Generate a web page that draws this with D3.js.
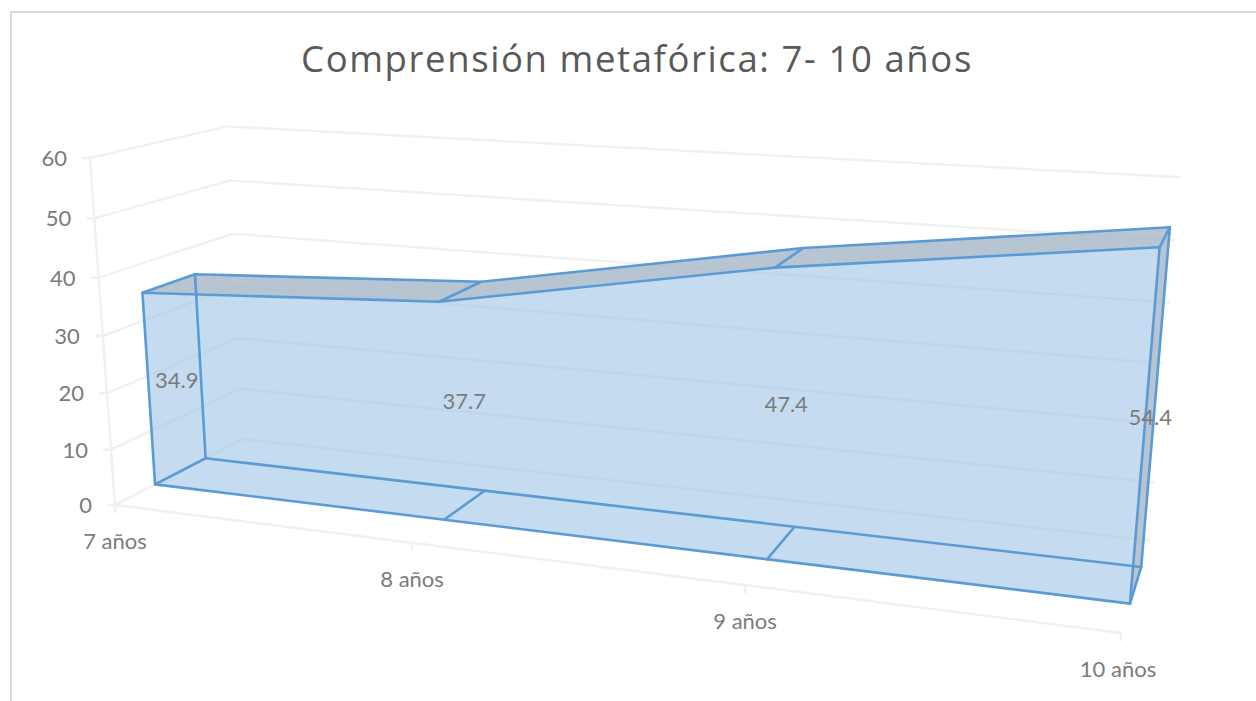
<!DOCTYPE html>
<html>
<head>
<meta charset="utf-8">
<script src="https://cdn.jsdelivr.net/npm/d3@7/dist/d3.min.js"></script>
<style>
  html, body { margin: 0; padding: 0; background: #fff; }
  svg { display: block; }
  text { font-family: Lato, sans-serif; font-size: 22px; fill: #7b7b7b; }
  .title { font-family: "Open Sans", sans-serif; font-size: 36.5px; fill: #595959; letter-spacing: 1.6px; }
</style>
</head>
<body>
<svg id="chart" width="1256" height="701"></svg>
<script>
const chartTitle = "Comprensión metafórica: 7- 10 años";
const categories = ["7 años", "8 años", "9 años", "10 años"];
const values = [34.9, 37.7, 47.4, 54.4];
const valueTicks = [0, 10, 20, 30, 40, 50, 60];

const width = 1256, height = 701;
const svg = d3.select("#chart");

// Scales into the unit box of the 3D plot: x along categories, v up, w into the page.
const xScale = d3.scalePoint().domain(categories).range([0, 1]);
const vScale = d3.scaleLinear().domain([0, 60]).range([0, 1]);
const seriesDepth = { front: 0.29, mid: 0.5, back: 0.685 };

// Perspective camera: the screen positions of three box corners plus the
// foreshortening along each axis define a projective map of the unit box.
const origin = [115, 505];
const cornerX = [1121, 633];
const cornerV = [90, 158];
const cornerW = [243, 439];
const persp = { x: -0.162, v: -0.05, w: 0.115 };
const axisVec = (corner, k) => [corner[0] * (1 + k) - origin[0], corner[1] * (1 + k) - origin[1]];
const vecX = axisVec(cornerX, persp.x);
const vecV = axisVec(cornerV, persp.v);
const vecW = axisVec(cornerW, persp.w);

function project(x, v, w) {
  const d = 1 + persp.x * x + persp.v * v + persp.w * w;
  return [
    (origin[0] + vecX[0] * x + vecV[0] * v + vecW[0] * w) / d,
    (origin[1] + vecX[1] * x + vecV[1] * v + vecW[1] * w) / d
  ];
}

const line = d3.line();
const closed = pts => line(pts) + "Z";

// Chart frame
svg.append("path")
  .attr("d", line([[11, height], [11, 12], [width, 12]]))
  .attr("fill", "none").attr("stroke", "#d9d9d9").attr("stroke-width", 2);

svg.append("text").attr("class", "title")
  .attr("x", 637).attr("y", 72).attr("text-anchor", "middle")
  .text(chartTitle);

// Walls and floor
const grid = svg.append("g").attr("fill", "none").attr("stroke", "#f0f0f0").attr("stroke-width", 2.4);
const tickLen = 8;

grid.selectAll("path.value-grid").data(valueTicks).join("path")
  .attr("class", "value-grid")
  .attr("d", t => {
    const v = vScale(t);
    const a = project(0, v, 0);
    return line([[a[0] - tickLen, a[1]], a, project(0, v, 1), project(1, v, 1)]);
  });

grid.append("path").attr("d", line([project(0, 0, 0), project(0, 1, 0)]));
grid.append("path").attr("d", line([project(0, 0, 0), project(1, 0, 0)]));

grid.selectAll("path.cat-tick").data(categories).join("path")
  .attr("class", "cat-tick")
  .attr("d", c => {
    const p = project(xScale(c), 0, 0);
    return line([p, [p[0], p[1] + tickLen]]);
  });

// Series geometry
const pts = categories.map((c, i) => {
  const x = xScale(c), v = vScale(values[i]);
  return {
    x, v,
    topFront: project(x, v, seriesDepth.front),
    topBack: project(x, v, seriesDepth.back),
    botFront: project(x, 0, seriesDepth.front),
    botBack: project(x, 0, seriesDepth.back),
    label: project(x, v / 2, seriesDepth.mid)
  };
});
const last = pts[pts.length - 1];

// Translucent body: one silhouette so overlapping faces do not double up.
// A white veil underneath softens the walls seen through the body.
const silhouette = [
  pts[0].topFront,
  ...pts.map(p => p.topBack),
  last.botBack,
  last.botFront,
  pts[0].botFront
];
svg.append("path").attr("d", closed(silhouette))
  .attr("fill", "#ffffff").attr("fill-opacity", 0.4);
svg.append("path").attr("d", closed(silhouette))
  .attr("fill", "#5b9bd5").attr("fill-opacity", 0.36);

// Shaded upward and right-hand faces
const shade = svg.append("g").attr("fill", "#a9afb6").attr("fill-opacity", 0.5);
d3.pairs(pts).forEach(([a, b]) => {
  shade.append("path").attr("d", closed([a.topFront, b.topFront, b.topBack, a.topBack]));
});
shade.append("path").attr("d", closed([last.topFront, last.topBack, last.botBack, last.botFront]));

// Edges
const edges = svg.append("g").attr("fill", "none").attr("stroke", "#5b9bd5")
  .attr("stroke-width", 2.6).attr("stroke-linejoin", "round").attr("stroke-linecap", "round");
edges.append("path").attr("d", closed([...pts.map(p => p.topFront), last.botFront, pts[0].botFront]));
edges.append("path").attr("d", closed([...pts.map(p => p.topBack), last.botBack, pts[0].botBack]));
pts.forEach(p => {
  edges.append("path").attr("d", line([p.topFront, p.topBack]));
  edges.append("path").attr("d", line([p.botFront, p.botBack]));
});

// Axis labels
svg.selectAll("text.value-label").data(valueTicks).join("text")
  .attr("class", "value-label")
  .attr("x", t => project(0, vScale(t), 0)[0] - 23)
  .attr("y", t => project(0, vScale(t), 0)[1] + 8)
  .attr("text-anchor", "end")
  .text(t => t);

// The last label is pulled in a little so it stays inside the plot's right edge
const lastCategory = categories[categories.length - 1];
svg.selectAll("text.cat-label").data(categories).join("text")
  .attr("class", "cat-label")
  .attr("x", c => project(xScale(c), 0, 0)[0] - (c === lastCategory ? 3 : 0))
  .attr("y", c => project(xScale(c), 0, 0)[1] + 44)
  .attr("text-anchor", "middle")
  .text(c => c);

// Data labels at the centre of each category's column of the body
svg.selectAll("text.data-label").data(pts).join("text")
  .attr("class", "data-label")
  .attr("x", p => p.label[0])
  .attr("y", p => p.label[1] + 10)
  .attr("text-anchor", "middle")
  .text((p, i) => values[i]);
</script>
</body>
</html>
